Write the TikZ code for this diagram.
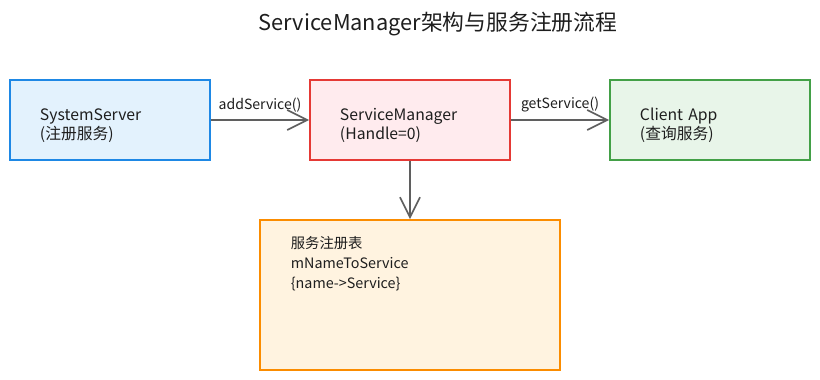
\documentclass[tikz,border=0pt]{standalone}
\usepackage{fontspec}
\setmainfont{Noto Sans CJK SC}
\usetikzlibrary{arrows.meta}
\definecolor{ink}{HTML}{1E1E1E}
\definecolor{linkgray}{HTML}{5F5F5F}
\definecolor{sysline}{HTML}{1E88E5}
\definecolor{sysfill}{HTML}{E3F2FD}
\definecolor{smline}{HTML}{E53935}
\definecolor{smfill}{HTML}{FFEBEE}
\definecolor{appline}{HTML}{43A047}
\definecolor{appfill}{HTML}{E8F5E9}
\definecolor{regline}{HTML}{FB8C00}
\definecolor{regfill}{HTML}{FFF3E0}
\begin{document}
\begin{tikzpicture}[x=0.025cm, y=-0.025cm, line width=1.2pt,
  box/.style={draw, line width=1.2pt, minimum width=5cm, minimum height=2cm,
    text width=3.5cm, inner xsep=0.75cm, align=left, text=ink,
    font=\fontsize{11.2}{13.6}\selectfont,
    execute at begin node=\rule{0pt}{16.5pt}},
  link/.style={draw=linkgray, line width=1.2pt,
    -{Straight Barb[length=0.5cm, width=0.5cm, line width=1.2pt]}},
  lbl/.style={font=\fontsize{10}{12}\selectfont, text=ink, inner sep=2pt, yshift=3pt}]
  \useasboundingbox (0,0) rectangle (820,380);
  \node[font=\fontsize{15.5}{18}\selectfont, text=ink] (title) at (438,24) {ServiceManager架构与服务注册流程};
  \node[box, draw=sysline, fill=sysfill] (sys) at (110,120) {SystemServer\\(注册服务)};
  \node[box, draw=smline, fill=smfill] (sm) at (410,120) {ServiceManager\\(Handle=0)};
  \node[box, draw=appline, fill=appfill] (app) at (710,120) {Client App\\(查询服务)};
  \node[draw=regline, fill=regfill, line width=1.2pt, minimum width=7.5cm, minimum height=3.75cm] (reg) at (410,295) {};
  \node[anchor=north west, align=left, text=ink, inner sep=0pt, font=\fontsize{10.2}{14.2}\selectfont] (regtxt) at (290,236) {服务注册表\\mNameToService\\\{name->Service\}};
  \draw[link] (sys) -- node[lbl, above] {addService()} (sm);
  \draw[link] (sm) -- node[lbl, above] {getService()} (app);
  \draw[link] (sm) -- (reg);
\end{tikzpicture}
\end{document}
